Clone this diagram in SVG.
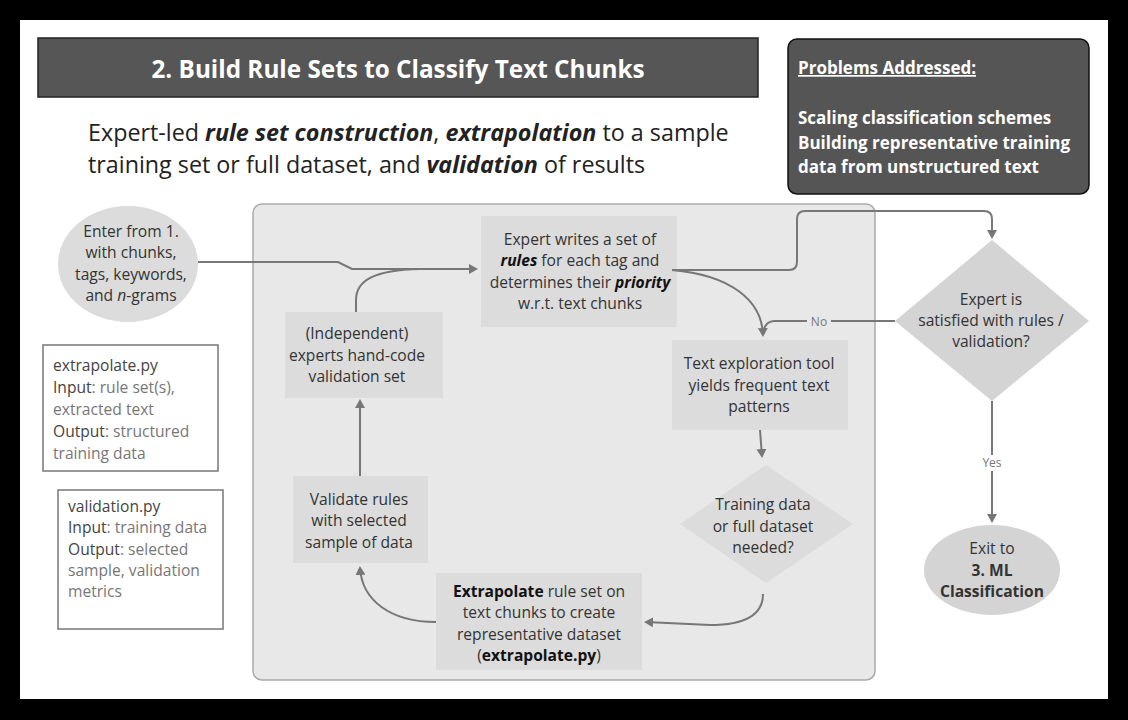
<svg xmlns="http://www.w3.org/2000/svg" width="1128" height="720" viewBox="0 0 1128 720">
<defs>
<marker id="ah" markerWidth="10" markerHeight="10" refX="7" refY="5" orient="auto" markerUnits="userSpaceOnUse">
<path d="M0,0 L9,5 L0,10 Z" fill="#777"/>
</marker>
<style>
text{font-family:"Open Sans","Noto Sans","DejaVu Sans",sans-serif;}
.n{font-size:15.6px;fill:#333;text-anchor:middle;}
.box{fill:#dcdcdc;}
.c{fill:none;stroke:#777;stroke-width:2;}
.side{font-size:15.6px;fill:#777;}
.sideb{fill:#444;}
.lab{font-size:12px;fill:#777;text-anchor:middle;}
.pb{font-size:17px;fill:#fff;font-weight:bold;}
.em{font-style:italic;font-weight:bold;}
</style>
</defs>
<rect x="0" y="0" width="1128" height="720" fill="#000"/>
<rect x="20" y="20" width="1088" height="679" fill="#fff"/>

<g id="title">
<rect x="38" y="38" width="720" height="59" fill="#565656" stroke="#222" stroke-width="1.5"/>
<text x="398" y="78" font-size="24.3" font-weight="bold" fill="#fff" text-anchor="middle">2. Build Rule Sets to Classify Text Chunks</text>
</g>
<g id="subtitle" font-size="23.3" fill="#222">
<text x="88" y="141">Expert-led <tspan class="em">rule set construction</tspan>, <tspan class="em">extrapolation</tspan> to a sample</text>
<text x="88" y="173">training set or full dataset, and <tspan class="em">validation</tspan> of results</text>
</g>
<g id="problems">
<rect x="788" y="39" width="301" height="155" rx="9" fill="#555" stroke="#111" stroke-width="1.5"/>
<text class="pb" x="798" y="74" text-decoration="underline">Problems Addressed:</text>
<text class="pb" x="798" y="124">Scaling classification schemes</text>
<text class="pb" x="798" y="149">Building representative training</text>
<text class="pb" x="798" y="173">data from unstructured text</text>
</g>

<g id="panel">
<rect x="253" y="204" width="622" height="476" rx="9" fill="#e8e8e8" stroke="#aaa" stroke-width="1.5"/>
</g>

<g id="enter">
<ellipse cx="128" cy="264" rx="70" ry="58" fill="#dcdcdc"/>
<text class="n" x="131" y="237">Enter from 1.</text>
<text class="n" x="131" y="258">with chunks,</text>
<text class="n" x="131" y="280">tags, keywords,</text>
<text class="n" x="131" y="301">and <tspan font-style="italic">n</tspan>-grams</text>
</g>

<g id="extrapolate-info">
<rect x="43" y="345" width="175" height="126" fill="#fff" stroke="#777" stroke-width="1.5"/>
<text class="side" x="53" y="371"><tspan class="sideb">extrapolate.py</tspan></text>
<text class="side" x="53" y="393"><tspan class="sideb">Input</tspan>: rule set(s),</text>
<text class="side" x="53" y="415">extracted text</text>
<text class="side" x="53" y="437"><tspan class="sideb">Output</tspan>: structured</text>
<text class="side" x="53" y="459">training data</text>
</g>

<g id="validation-info">
<rect x="58" y="490" width="165" height="139" fill="#fff" stroke="#777" stroke-width="1.5"/>
<text class="side" x="68" y="512"><tspan class="sideb">validation.py</tspan></text>
<text class="side" x="68" y="533"><tspan class="sideb">Input</tspan>: training data</text>
<text class="side" x="68" y="555"><tspan class="sideb">Output</tspan>: selected</text>
<text class="side" x="68" y="576">sample, validation</text>
<text class="side" x="68" y="597">metrics</text>
</g>

<g id="expert-writes">
<rect class="box" x="481" y="216" width="196" height="111"/>
<text class="n" x="580" y="245">Expert writes a set of</text>
<text class="n" x="580" y="266"><tspan class="em" fill="#111">rules</tspan> for each tag and</text>
<text class="n" x="580" y="288">determines their <tspan class="em" fill="#111">priority</tspan></text>
<text class="n" x="580" y="309">w.r.t. text chunks</text>
</g>

<g id="independent">
<rect class="box" x="285" y="312" width="158" height="86"/>
<text class="n" x="357" y="339">(Independent)</text>
<text class="n" x="357" y="361">experts hand-code</text>
<text class="n" x="357" y="382">validation set</text>
</g>

<g id="text-exploration">
<rect class="box" x="672" y="340" width="176" height="90"/>
<text class="n" x="759" y="369">Text exploration tool</text>
<text class="n" x="759" y="391">yields frequent text</text>
<text class="n" x="759" y="412">patterns</text>
</g>

<g id="training-decision">
<polygon points="766,465 853,524 766,583 680,524" fill="#dcdcdc"/>
<text class="n" x="763" y="510">Training data</text>
<text class="n" x="763" y="532">or full dataset</text>
<text class="n" x="763" y="553">needed?</text>
</g>

<g id="extrapolate">
<rect class="box" x="436" y="573" width="206" height="97"/>
<text class="n" x="539" y="597"><tspan font-weight="bold" fill="#111">Extrapolate</tspan> rule set on</text>
<text class="n" x="539" y="618">text chunks to create</text>
<text class="n" x="539" y="640">representative dataset</text>
<text class="n" x="539" y="661">(<tspan font-weight="bold" fill="#111">extrapolate.py</tspan>)</text>
</g>

<g id="validate">
<rect class="box" x="293" y="476" width="135" height="87"/>
<text class="n" x="359" y="505">Validate rules</text>
<text class="n" x="359" y="526">with selected</text>
<text class="n" x="359" y="548">sample of data</text>
</g>

<g id="satisfied">
<polygon points="992,240 1089,321 992,401 895,321" fill="#d4d4d4"/>
<text class="n" x="991" y="305">Expert is</text>
<text class="n" x="991" y="326">satisfied with rules /</text>
<text class="n" x="991" y="347">validation?</text>
</g>

<g id="exit">
<ellipse cx="992" cy="570" rx="68" ry="45" fill="#d4d4d4"/>
<text class="n" x="992" y="554">Exit to</text>
<text class="n" x="992" y="576" font-weight="bold" fill="#111">3. ML</text>
<text class="n" x="992" y="597" font-weight="bold" fill="#111">Classification</text>
</g>

<g id="connectors">
<path class="c" d="M198,262 L338,262 L352,269 L476,269" marker-end="url(#ah)"/>
<path class="c" d="M356,312 L356,300 C356,280 375,270 420,269"/>
<path class="c" d="M672,270 C730,275 762,300 763,335" marker-end="url(#ah)"/>
<path class="c" d="M672,270 L789,270 Q797,270 797,262 L797,219 Q797,211 805,211 L984,211 Q992,211 992,219 L992,237" marker-end="url(#ah)"/>
<path class="c" d="M895,321 L775,321 Q764,321 763,335"/>
<rect x="807" y="314" width="24" height="15" fill="#e8e8e8"/>
<text class="lab" x="819" y="326">No</text>
<path class="c" d="M760,430 L762,456" marker-end="url(#ah)"/>
<path class="c" d="M763,594 C763,615 745,625 710,625 L646,622" marker-end="url(#ah)"/>
<path class="c" d="M436,622 C390,622 362,600 360,568" marker-end="url(#ah)"/>
<path class="c" d="M360,476 L360,401" marker-end="url(#ah)"/>
<path class="c" d="M992,401 L992,521" marker-end="url(#ah)"/>
<rect x="978" y="455" width="28" height="16" fill="#fff"/>
<text class="lab" x="992" y="467">Yes</text>
</g>
</svg>
